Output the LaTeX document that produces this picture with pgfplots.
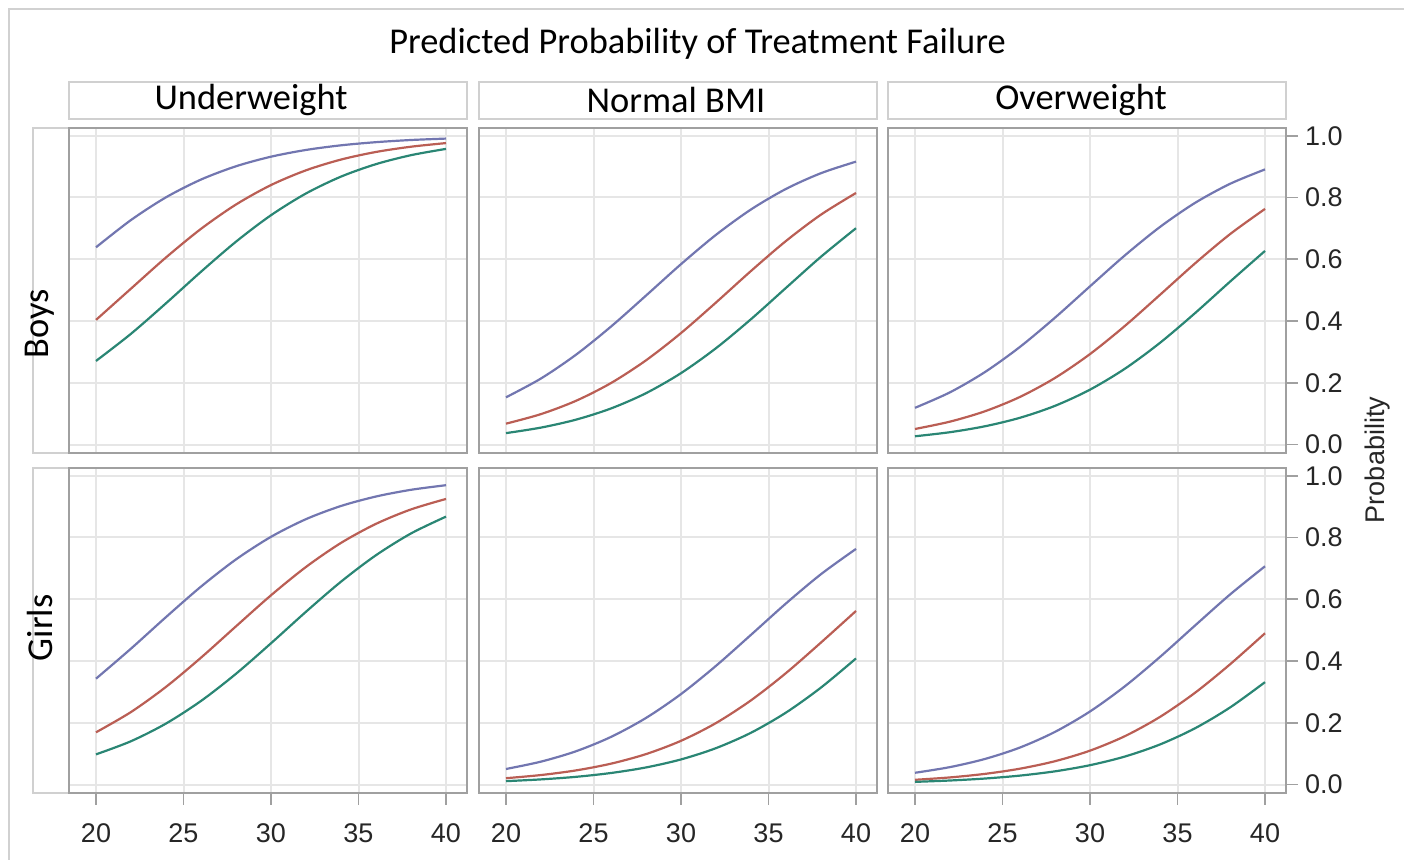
\documentclass[border=0pt]{standalone}
\usepackage{fontspec}
\setmainfont{Liberation Sans}
\newfontfamily\calfont{Carlito}
\usepackage{pgfplots}
\usepackage{pgfplotstable}
\pgfplotsset{compat=1.18}
\definecolor{bluec}{HTML}{7276B0}
\definecolor{redc}{HTML}{BA5E54}
\definecolor{greenc}{HTML}{2A8674}
\definecolor{framec}{HTML}{A0A0A0}
\definecolor{gridc}{HTML}{E6E6E6}
\definecolor{stripc}{HTML}{D0D0D0}

% predicted probabilities, x = age/BMI value, columns per group
\pgfplotstableread{
x  blue   red    green
20 0.6388 0.4037 0.2709
22 0.7271 0.5050 0.3589
24 0.8006 0.6059 0.4576
26 0.8581 0.6985 0.5597
28 0.9011 0.7773 0.6570
30 0.9321 0.8403 0.7427
32 0.9539 0.8880 0.8131
34 0.9689 0.9228 0.8676
36 0.9791 0.9474 0.9080
38 0.9861 0.9644 0.9370
40 0.9907 0.9761 0.9573
}\boysunder
\pgfplotstableread{
x  blue   red    green
20 0.1532 0.0679 0.0373
22 0.2142 0.0989 0.0552
24 0.2911 0.1419 0.0809
26 0.3822 0.1994 0.1171
28 0.4825 0.2729 0.1666
30 0.5842 0.3612 0.2315
32 0.6792 0.4601 0.3122
34 0.7613 0.5622 0.4061
36 0.8278 0.6593 0.5075
38 0.8787 0.7446 0.6083
40 0.9161 0.8146 0.7006
}\boysnormal
\pgfplotstableread{
x  blue   red    green
20 0.1192 0.0507 0.0271
22 0.1694 0.0745 0.0403
24 0.2351 0.1081 0.0595
26 0.3165 0.1545 0.0870
28 0.4110 0.2159 0.1256
30 0.5125 0.2932 0.1780
32 0.6130 0.3846 0.2460
34 0.7047 0.4850 0.3296
36 0.7825 0.5866 0.4256
38 0.8442 0.6813 0.5275
40 0.8909 0.7631 0.6271
}\boysover
\pgfplotstableread{
x  blue   red    green
20 0.3430 0.1694 0.0980
22 0.4403 0.2351 0.1406
24 0.5424 0.3165 0.1978
26 0.6411 0.4110 0.2709
28 0.7291 0.5125 0.3589
30 0.8022 0.6130 0.4576
32 0.8594 0.7047 0.5597
34 0.9020 0.7825 0.6570
36 0.9327 0.8442 0.7427
38 0.9544 0.8909 0.8131
40 0.9693 0.9248 0.8676
}\girlsunder
\pgfplotstableread{
x  blue   red    green
20 0.0507 0.0209 0.0113
22 0.0745 0.0311 0.0170
24 0.1081 0.0461 0.0253
26 0.1545 0.0679 0.0377
28 0.2159 0.0989 0.0557
30 0.2932 0.1419 0.0816
32 0.3846 0.1994 0.1182
34 0.4850 0.2729 0.1680
36 0.5866 0.3612 0.2333
38 0.6813 0.4601 0.3143
40 0.7631 0.5622 0.4085
}\girlsnormal
\pgfplotstableread{
x  blue   red    green
20 0.0384 0.0157 0.0090
22 0.0568 0.0234 0.0134
24 0.0832 0.0349 0.0198
26 0.1202 0.0517 0.0293
28 0.1708 0.0759 0.0431
30 0.2369 0.1101 0.0630
32 0.3187 0.1571 0.0911
34 0.4134 0.2193 0.1301
36 0.5150 0.2973 0.1824
38 0.6154 0.3894 0.2497
40 0.7068 0.4900 0.3318
}\girlsover

\pgfplotsset{
  panel/.style={
    anchor=south west, scale only axis,
    width=199pt, height=162.5pt,
    xmin=18.457, xmax=41.2, ymin=-0.027, ymax=1.025,
    xtick={20,25,30,35,40}, ytick={0,0.2,0.4,0.6,0.8,1},
    xticklabels={}, yticklabels={},
    grid=major, grid style={line width=1pt, gridc},
    axis line style={line width=0.9pt, framec},
    tick align=outside, major tick length=6pt,
    xtick style={draw=none}, ytick style={draw=none},
    tick label style={font=\fontsize{13.5}{15}\selectfont, black!85},
    /pgf/number format/assume math mode=true,
  },
  bottomticks/.style={xticklabel={\pgfmathprintnumber{\tick}}, xtick pos=left,
    xtick style={draw=framec, line width=0.8pt},
    xticklabel style={yshift=-6pt}},
  rightticks/.style={yticklabel={\pgfmathprintnumber[fixed,fixed zerofill,precision=1]{\tick}},
    yticklabel pos=right, ytick pos=right,
    ytick style={draw=framec, line width=0.8pt}},
  bl/.style={bluec, line width=1.1pt, smooth},
  rd/.style={redc, line width=1.1pt, smooth},
  gr/.style={greenc, line width=1.1pt, smooth},
}

\newcommand\curves[1]{%
  \addplot[bl] table[x=x,y=blue]{#1};
  \addplot[rd] table[x=x,y=red]{#1};
  \addplot[gr] table[x=x,y=green]{#1};
}

\begin{document}
\begin{tikzpicture}
\useasboundingbox (0,0) rectangle (702pt,430pt);
\draw[black!18, line width=1pt] (4.5pt,0) -- (4.5pt,425.5pt) -- (702pt,425.5pt);

% title
\node[font=\calfont\fontsize{18.2}{20}\selectfont] at (348.75pt,408pt)
  {Predicted Probability of Treatment Failure};

% column strips
\foreach \xl/\lab/\tx in {34.5/Underweight/125.5, 239.5/Normal BMI/338, 444/Overweight/540.5} {
  \draw[stripc, line width=0.8pt] (\xl pt,370.5pt) rectangle ++(199pt,18.5pt);
  \node[font=\calfont\fontsize{18.2}{20}\selectfont] at (\tx pt,380pt) {\lab};
}
% row strips
\draw[stripc, line width=0.8pt] (16.5pt,203.5pt) rectangle (34.5pt,366pt);
\draw[stripc, line width=0.8pt] (16.5pt,33.5pt) rectangle (34.5pt,196pt);
\node[rotate=90, font=\calfont\fontsize{18.2}{20}\selectfont] at (20pt,268pt) {Boys};
\node[rotate=90, font=\calfont\fontsize{18.2}{20}\selectfont] at (20pt,116pt) {Girls};

% boys row
\begin{axis}[panel, at={(34.5pt,203.5pt)}]
  \curves{\boysunder}
\end{axis}
\begin{axis}[panel, at={(239.5pt,203.5pt)}]
  \curves{\boysnormal}
\end{axis}
\begin{axis}[panel, rightticks, at={(444pt,203.5pt)}]
  \curves{\boysover}
\end{axis}
% girls row
\begin{axis}[panel, bottomticks, at={(34.5pt,33.5pt)}]
  \curves{\girlsunder}
\end{axis}
\begin{axis}[panel, bottomticks, at={(239.5pt,33.5pt)}]
  \curves{\girlsnormal}
\end{axis}
\begin{axis}[panel, bottomticks, rightticks, at={(444pt,33.5pt)}]
  \curves{\girlsover}
\end{axis}

\node[rotate=90, font=\fontsize{13.5}{15}\selectfont, black!85] at (689pt,200pt) {Probability};
\end{tikzpicture}
\end{document}
